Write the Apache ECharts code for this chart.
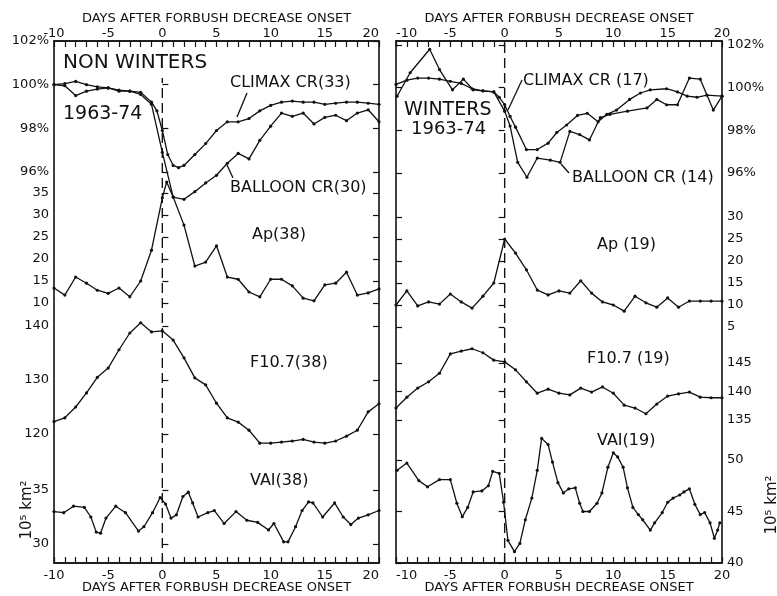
<!DOCTYPE html>
<html><head><meta charset="utf-8">
<script src="https://cdn.jsdelivr.net/npm/echarts@6/dist/echarts.min.js"></script>
<style>html,body{margin:0;padding:0;background:#fff}#c{width:777px;height:596px}</style>
</head><body><div id="c"></div>
<script>
// ---------------- DATA ----------------
const dayTicks = [-10, 20, 5];            // min, max, label interval
const xAxisTitle = 'DAYS AFTER FORBUSH DECREASE ONSET';
const onsetDay = 0;

// NON WINTERS 1963-74
const climaxNW = [[-10,100.0],[-9,100.05],[-8,100.15],[-7,100.0],[-6,99.9],[-5,99.85],[-4,99.7],[-3,99.7],[-2,99.65],[-1,99.2],[-0.5,98.8],[0,97.9],[0.5,96.8],[1,96.3],[1.5,96.2],[2,96.3],[3,96.8],[4,97.3],[5,97.9],[6,98.3],[7,98.3],[8,98.45],[9,98.8],[10,99.05],[11,99.2],[12,99.25],[13,99.2],[14,99.2],[15,99.1],[16,99.15],[17,99.2],[18,99.2],[19,99.15],[20,99.1]];
const balloonNW = [[-10,100.0],[-9,99.95],[-8,99.5],[-7,99.7],[-6,99.8],[-5,99.85],[-4,99.75],[-3,99.7],[-2,99.55],[-1,99.1],[0,96.9],[1,94.85],[2,94.75],[3,95.1],[4,95.5],[5,95.85],[6,96.4],[7,96.85],[8,96.6],[9,97.45],[10,98.1],[11,98.7],[12,98.55],[13,98.7],[14,98.2],[15,98.5],[16,98.6],[17,98.35],[18,98.7],[19,98.85],[20,98.3]];
const apNW = [[-10,13.4],[-9,11.8],[-8,15.9],[-7,14.5],[-6,12.9],[-5,12.2],[-4,13.4],[-3,11.4],[-2,15.0],[-1,22.0],[0,33.9],[0.4,37.5],[1,34.1],[2,27.7],[3,18.4],[4,19.3],[5,23.0],[6,15.9],[7,15.4],[8,12.5],[9,11.4],[10,15.4],[11,15.4],[12,13.9],[13,11.1],[14,10.5],[15,14.1],[16,14.5],[17,17.0],[18,11.8],[19,12.3],[20,13.2]];
const f107NW = [[-10,122.3],[-9,123.0],[-8,125.0],[-7,127.6],[-6,130.5],[-5,132.2],[-4,135.6],[-3,138.7],[-2,140.6],[-1,138.9],[0,139.1],[1,137.4],[2,134.1],[3,130.4],[4,129.1],[5,125.7],[6,123.0],[7,122.2],[8,120.7],[9,118.3],[10,118.3],[11,118.5],[12,118.7],[13,119.0],[14,118.5],[15,118.3],[16,118.7],[17,119.6],[18,120.7],[19,124.1],[20,125.6]];
const vaiNW = [[-10,33.0],[-9.1,32.9],[-8.2,33.5],[-7.2,33.4],[-6.6,32.5],[-6.1,31.1],[-5.7,31.0],[-5.2,32.4],[-4.3,33.5],[-3.4,32.9],[-2.2,31.2],[-1.7,31.6],[-0.9,32.9],[-0.2,34.3],[0.3,33.7],[0.8,32.4],[1.3,32.7],[1.9,34.4],[2.4,34.8],[2.8,33.8],[3.3,32.5],[4.2,32.9],[4.8,33.1],[5.7,31.9],[6.8,33.0],[7.8,32.2],[8.8,32.0],[9.8,31.3],[10.3,31.9],[11.2,30.2],[11.6,30.2],[12.3,31.6],[12.9,33.1],[13.5,33.9],[13.9,33.8],[14.8,32.5],[15.9,33.8],[16.7,32.5],[17.4,31.8],[18.1,32.4],[19.0,32.7],[20,33.1]];

// WINTERS 1963-74
const climaxW = [[-10,100.15],[-9,100.35],[-8,100.45],[-7,100.45],[-6,100.4],[-5,100.3],[-4,100.2],[-3,99.95],[-2,99.85],[-1,99.8],[-0.5,99.55],[0,99.2],[0.5,98.65],[1,98.15],[2,97.1],[3,97.1],[4,97.4],[4.8,97.9],[5.7,98.25],[6.7,98.7],[7.6,98.8],[8.6,98.4],[9.4,98.75],[10.3,98.95],[11.5,99.45],[12.5,99.75],[13.4,99.9],[14.9,99.95],[15.9,99.8],[16.8,99.6],[17.7,99.55],[18.6,99.65],[20,99.6]];
const balloonW = [[-9.9,99.6],[-8.7,100.7],[-6.9,101.8],[-6,100.85],[-4.8,99.9],[-3.8,100.4],[-2.9,99.9],[-2,99.85],[-1,99.8],[0,98.9],[0.5,98.2],[1.2,96.5],[2.05,95.8],[3,96.7],[4.2,96.6],[5.1,96.5],[6,97.95],[6.9,97.8],[7.8,97.55],[8.8,98.6],[9.7,98.75],[11.3,98.9],[13.1,99.05],[14,99.45],[14.9,99.2],[15.9,99.2],[17,100.45],[18,100.4],[19.2,98.95],[20,99.6]];
const apWdays = [-10,-9,-8,-7,-6,-5,-4,-3,-2,-1,0,1,2,3,4,5,6,7,8,9,10,11,12,13,14,15,16,17,18,19,20];
const apW = [10.0,13.2,9.8,10.7,10.2,12.5,10.7,9.3,12.0,15.0,25.0,21.8,18.0,13.4,12.3,13.2,12.7,15.5,12.7,10.7,10.0,8.6,12.0,10.5,9.5,11.6,9.5,10.9,10.9,10.9,10.9];
const f107W = [137.1,139.0,140.6,141.7,143.2,146.6,147.1,147.5,146.8,145.5,145.2,143.8,141.7,139.7,140.4,139.7,139.4,140.6,139.9,140.8,139.7,137.6,137.1,136.1,137.8,139.2,139.6,139.9,139.0,138.9,138.9];
const vaiW = [[-9.9,49.0],[-9.0,49.7],[-7.9,48.0],[-7.1,47.4],[-6.0,48.1],[-5.0,48.1],[-4.4,45.8],[-3.9,44.5],[-3.4,45.4],[-2.9,46.9],[-2.1,47.0],[-1.5,47.5],[-1.1,48.9],[-0.5,48.7],[-0.1,45.9],[0.3,42.2],[0.9,41.1],[1.4,41.9],[1.9,44.2],[2.5,46.3],[3.0,49.0],[3.4,52.1],[4.0,51.5],[4.4,49.8],[4.9,47.8],[5.4,46.8],[5.9,47.2],[6.5,47.3],[6.9,45.8],[7.2,45.0],[7.8,45.0],[8.5,45.8],[8.95,46.8],[9.5,49.3],[10.0,50.7],[10.4,50.3],[10.9,49.3],[11.3,47.3],[11.8,45.4],[12.3,44.7],[12.7,44.2],[13.4,43.2],[13.8,43.9],[14.5,44.9],[15.0,45.9],[15.5,46.3],[16.1,46.6],[16.5,46.9],[17.0,47.2],[17.5,45.7],[18.0,44.7],[18.4,44.9],[18.9,43.9],[19.3,42.4],[19.6,43.2],[19.8,43.9]];

// scales of the stacked bands: [min, max, interval]
const crScaleNW = [96, 102, 2], apScaleNW = [10, 35, 5], f107ScaleNW = [120, 140, 10], vaiScaleNW = [30, 35, 5];
const crScaleW = [96, 102, 2], apScaleW = [5, 30, 5], f107ScaleW = [135, 145, 5], vaiScaleW = [40, 50, 5];

// ---------------- CHART ----------------
const FONT = 'DejaVu Sans';
const BLACK = '#111';
const grids = [], xAxes = [], yAxes = [], series = [];
const numFmt = v => (Math.abs(v) < 1e-9 ? '0' : String(Math.round(v * 100) / 100));

function addGrid(cfg) { cfg.outerBoundsMode = 'none'; cfg.containLabel = false; grids.push(cfg); return grids.length - 1; }
function frameX(g, pos, alignMin, alignMax) {
  xAxes.push({
    gridIndex: g, type: 'value', min: dayTicks[0], max: dayTicks[1], interval: dayTicks[2], position: pos,
    axisLine: { show: true, lineStyle: { color: BLACK, width: 1.6 } },
    axisTick: { show: true, inside: true, length: 6, lineStyle: { color: BLACK, width: 1.2 } },
    minorTick: { show: true, splitNumber: 5, length: 6, lineStyle: { color: BLACK, width: 1.2 } },
    splitLine: { show: false }, minorSplitLine: { show: false },
    axisLabel: { fontFamily: FONT, fontSize: 13, color: BLACK, margin: pos === 'top' ? 1 : 6, formatter: numFmt,
      alignMinLabel: alignMin, alignMaxLabel: alignMax },
    name: xAxisTitle, nameLocation: 'middle', nameGap: pos === 'top' ? 16 : 18, nameMoveOverlap: false,
    nameTextStyle: { fontFamily: FONT, fontSize: 13, color: BLACK }
  });
  return xAxes.length - 1;
}
function hiddenX(g) {
  xAxes.push({ gridIndex: g, type: 'value', min: dayTicks[0], max: dayTicks[1], show: false });
  return xAxes.length - 1;
}
function bandY(g, sc, side, fmt) {
  const common = {
    gridIndex: g, type: 'value', min: sc[0], max: sc[1], interval: sc[2],
    axisLine: { show: false }, splitLine: { show: false },
    axisTick: { show: true, inside: true, length: 6, lineStyle: { color: BLACK, width: 1.2 } }
  };
  yAxes.push(Object.assign({}, common, { position: side,
    axisLabel: { show: true, fontFamily: FONT, fontSize: 13, color: BLACK, margin: 5, formatter: fmt || '{value}' } }));
  const idx = yAxes.length - 1;
  yAxes.push(Object.assign({}, common, { position: side === 'left' ? 'right' : 'left', axisLabel: { show: false } }));
  return idx;
}
function line(xi, yi, data) {
  series.push({ type: 'line', xAxisIndex: xi, yAxisIndex: yi, data: data, clip: false,
    symbol: 'circle', symbolSize: 3.2, showSymbol: true,
    lineStyle: { color: BLACK, width: 1.3 }, itemStyle: { color: BLACK },
    animation: false, silent: true, z: 3 });
}
const pct = v => v + '%';

function panel(left, width, bands, side, data, dashTop, alignMin, alignMax) {
  const fg = addGrid({ left: left, top: 41, width: width, height: 522, show: true, borderColor: BLACK, borderWidth: 1.6, backgroundColor: 'transparent' });
  const fx = frameX(fg, 'bottom', alignMin, alignMax); frameX(fg, 'top', alignMin, alignMax);
  yAxes.push({ gridIndex: fg, type: 'value', min: 0, max: 1, show: false });
  const fy = yAxes.length - 1;
  series.push({ type: 'line', xAxisIndex: fx, yAxisIndex: fy, data: [[onsetDay, 0], [onsetDay, dashTop]],
    symbol: 'none', lineStyle: { color: BLACK, width: 1.4, type: [10, 5] }, animation: false, silent: true });
  bands.forEach((b, i) => {
    const g = addGrid({ left: left, top: b.top, width: width, height: b.height });
    const xi = hiddenX(g);
    const yi = bandY(g, b.scale, side, b.fmt);
    data[i].forEach(d => line(xi, yi, d));
  });
}

panel(54, 325, [
  { top: 41, height: 131, scale: crScaleNW, fmt: pct },
  { top: 193, height: 110, scale: apScaleNW },
  { top: 326, height: 108, scale: f107ScaleNW },
  { top: 490, height: 54, scale: vaiScaleNW }
], 'left', [[climaxNW, balloonNW], [apNW], [f107NW], [vaiNW]], 0.929, 'center', 'right');

panel(396, 326, [
  { top: 45, height: 128, scale: crScaleW, fmt: pct },
  { top: 217, height: 110, scale: apScaleW },
  { top: 363, height: 57, scale: f107ScaleW },
  { top: 460, height: 103, scale: vaiScaleW }
], 'right', [[climaxW, balloonW], [apWdays.map((d, i) => [d, apW[i]])], [apWdays.map((d, i) => [d, f107W[i]])], [vaiW]], 1, 'left', 'center');

function txt(s, x, y, size, align) {
  return { type: 'text', x: x, y: y, silent: true, z: 10,
    style: { text: s, fontFamily: FONT, fontSize: size, fill: BLACK,
      align: align || 'left', verticalAlign: 'middle', textAlign: align || 'left', textVerticalAlign: 'middle' } };
}
function seg(x1, y1, x2, y2) {
  return { type: 'line', silent: true, z: 10, shape: { x1: x1, y1: y1, x2: x2, y2: y2 }, style: { stroke: BLACK, lineWidth: 1.3 } };
}
const graphic = [
  txt('NON WINTERS', 63, 63, 20),
  txt('1963-74', 63, 114, 19),
  txt('CLIMAX CR(33)', 230, 83, 16),
  txt('BALLOON CR(30)', 230, 188, 16),
  txt('Ap(38)', 252, 235, 16),
  txt('F10.7(38)', 250, 363, 16),
  txt('VAI(38)', 250, 481, 16),
  txt('CLIMAX CR (17)', 523, 81, 16),
  txt('WINTERS', 404, 110, 19),
  txt('1963-74', 411, 129, 18),
  txt('BALLOON CR (14)', 572, 178, 16),
  txt('Ap (19)', 597, 245, 16),
  txt('F10.7 (19)', 587, 359, 16),
  txt('VAI(19)', 597, 441, 16),
  seg(247, 93, 237, 117),
  seg(233, 178, 227, 165),
  seg(522, 80, 508, 110),
  seg(561, 164, 569, 173),
  { type: 'text', x: 27, y: 510, rotation: Math.PI / 2, silent: true,
    style: { text: '10⁵ km²', fontFamily: FONT, fontSize: 15, fill: BLACK, align: 'center', verticalAlign: 'middle', textAlign: 'center', textVerticalAlign: 'middle' } },
  { type: 'text', x: 772, y: 505, rotation: Math.PI / 2, silent: true,
    style: { text: '10⁵ km²', fontFamily: FONT, fontSize: 15, fill: BLACK, align: 'center', verticalAlign: 'middle', textAlign: 'center', textVerticalAlign: 'middle' } }
];

const chart = echarts.init(document.getElementById('c'), null, { renderer: 'canvas' });
chart.setOption({
  backgroundColor: '#fff', animation: false,
  grid: grids, xAxis: xAxes, yAxis: yAxes, series: series, graphic: graphic
});
</script></body></html>
